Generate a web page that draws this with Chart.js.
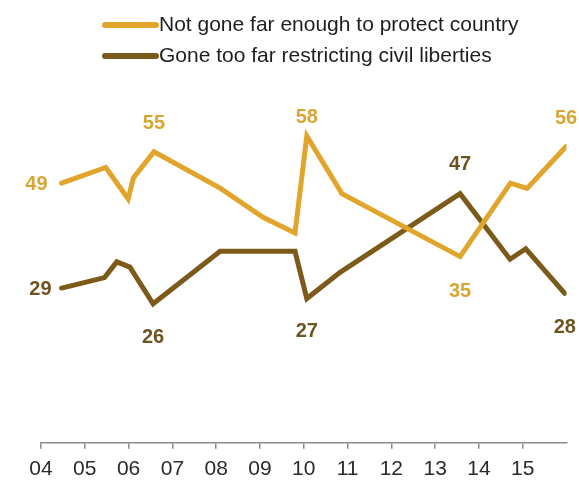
<!DOCTYPE html>
<html>
<head>
<meta charset="utf-8">
<script src="https://cdn.jsdelivr.net/npm/chart.js@4.4.0/dist/chart.umd.min.js"></script>
<style>
  html, body { margin: 0; padding: 0; background: #fff; }
</style>
</head>
<body>
<canvas id="chart" width="579" height="480"></canvas>
<script>
// series names, axis ticks and values
const seriesNames = ['Not gone far enough to protect country', 'Gone too far restricting civil liberties'];
const tickYears = [2004, 2005, 2006, 2007, 2008, 2009, 2010, 2011, 2012, 2013, 2014, 2015];
const tickLabels = ['04', '05', '06', '07', '08', '09', '10', '11', '12', '13', '14', '15'];

const protectDates  = [2004.47, 2005.48, 2005.99, 2006.11, 2006.58, 2008.1, 2009.07, 2009.8, 2010.07, 2010.87, 2013.57, 2014.72, 2015.1, 2015.99];
const protectValues = [49, 52, 46, 50, 55, 48, 42.5, 39.5, 58, 47, 35, 49, 48, 56];

const libertyDates  = [2004.47, 2005.45, 2005.73, 2006.03, 2006.56, 2008.09, 2009.8, 2010.07, 2010.83, 2013.57, 2014.71, 2015.07, 2015.96];
const libertyValues = [29, 31, 34, 33, 26, 36, 36, 27, 32, 47, 34.5, 36.5, 28];

const FONT = "'Liberation Sans', Arial, sans-serif";
const GOLD = '#e2a52b';
const BROWN = '#7b5a1a';
const GOLD_TXT = '#d9a634';
const BROWN_TXT = '#6d5420';

// which points carry a value label: [dataset, index, where, offset]
const labelSpots = [
  [0, 0, 'left', 14], [0, 4, 'above', 28], [0, 8, 'above', 18], [0, 10, 'below', 35], [0, 13, 'above', 28],
  [1, 0, 'left', 10], [1, 4, 'below', 34], [1, 7, 'below', 33], [1, 9, 'above', 29], [1, 12, 'below', 34]
];

const pointLabels = {
  id: 'pointLabels',
  afterDatasetsDraw(chart) {
    const ctx = chart.ctx;
    ctx.save();
    ctx.font = 'bold 20px ' + FONT;
    ctx.textBaseline = 'middle';
    labelSpots.forEach(([ds, i, where, off]) => {
      const pt = chart.getDatasetMeta(ds).data[i];
      const v = chart.data.datasets[ds].data[i].y;
      ctx.fillStyle = ds === 0 ? GOLD_TXT : BROWN_TXT;
      if (where === 'left') {
        ctx.textAlign = 'right';
        ctx.fillText(v, pt.x - off, pt.y + 1);
      } else {
        ctx.textAlign = 'center';
        ctx.fillText(v, pt.x, where === 'above' ? pt.y - off : pt.y + off);
      }
    });
    ctx.restore();
  }
};

const lineLegend = {
  id: 'lineLegend',
  afterDraw(chart) {
    const ctx = chart.ctx;
    ctx.save();
    ctx.font = '21px ' + FONT;
    ctx.textBaseline = 'middle';
    ctx.textAlign = 'left';
    chart.data.datasets.forEach((ds, k) => {
      const y = 25 + k * 31;
      ctx.strokeStyle = ds.borderColor;
      ctx.lineWidth = 6;
      ctx.lineCap = 'round';
      ctx.beginPath();
      ctx.moveTo(105, y);
      ctx.lineTo(156, y);
      ctx.stroke();
      ctx.fillStyle = '#1e1e1e';
      ctx.fillText(ds.label, 159, y);
    });
    ctx.restore();
  }
};

const toPoints = (xs, ys) => xs.map((x, i) => ({ x: x, y: ys[i] }));

new Chart(document.getElementById('chart'), {
  type: 'line',
  data: {
    datasets: [
      {
        label: seriesNames[0],
        data: toPoints(protectDates, protectValues),
        borderColor: GOLD,
        borderWidth: 5,
        borderCapStyle: 'round',
        pointRadius: 0,
        tension: 0
      },
      {
        label: seriesNames[1],
        data: toPoints(libertyDates, libertyValues),
        borderColor: BROWN,
        borderWidth: 5,
        borderCapStyle: 'round',
        pointRadius: 0,
        tension: 0
      }
    ]
  },
  options: {
    responsive: false,
    animation: false,
    devicePixelRatio: 1,
    layout: { padding: { left: 41, right: 12.5, top: 115, bottom: -10 } },
    scales: {
      x: {
        type: 'linear',
        min: 2004,
        max: 2016,
        afterBuildTicks: (scale) => { scale.ticks = tickYears.map(v => ({ value: v })); },
        ticks: {
          autoSkip: false,
          maxRotation: 0,
          padding: 8,
          color: '#2b2b2b',
          font: { family: FONT, size: 21 },
          callback: (value, index) => tickLabels[index]
        },
        grid: { drawOnChartArea: false, tickLength: 6, color: '#8a8a8a', lineWidth: 1.5 },
        border: { color: '#8a8a8a', width: 1.5 }
      },
      y: { display: false, min: -0.5, max: 62 }
    },
    plugins: {
      legend: { display: false },
      tooltip: { enabled: false }
    }
  },
  plugins: [pointLabels, lineLegend]
});
</script>
</body>
</html>
